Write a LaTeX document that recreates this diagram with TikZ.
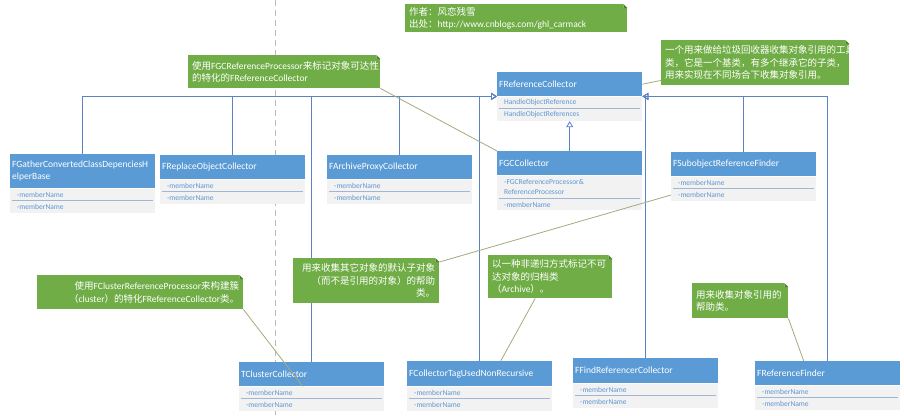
\documentclass[tikz,border=0pt]{standalone}
\usepackage{fontspec}
\setmainfont{Carlito}
\newfontfamily\cjk{Noto Sans CJK SC}
\usetikzlibrary{arrows.meta, positioning, backgrounds}
\definecolor{hdrblue}{RGB}{91,155,213}
\definecolor{rowgray}{RGB}{242,242,242}
\definecolor{rowtext}{RGB}{95,150,210}
\definecolor{sepblue}{RGB}{160,182,212}
\definecolor{linkblue}{RGB}{91,131,196}
\definecolor{notegreen}{RGB}{112,173,71}
\definecolor{notedark}{RGB}{78,130,45}
\definecolor{annoline}{RGB}{165,170,125}
\definecolor{guidegray}{RGB}{185,185,185}
\newcommand{\ltn}[1]{{\rmfamily #1}}

\begin{document}
\begin{tikzpicture}[x=1pt, y=-1pt,
  hdr/.style={fill=hdrblue, text=white, font=\fontsize{9.5}{12}\selectfont,
              anchor=north west, inner sep=2pt, text width=141pt, align=left},
  mrow/.style={fill=rowgray, text=rowtext, font=\fontsize{7.5}{10}\selectfont,
               anchor=north west, inner xsep=7pt, inner ysep=0pt,
               minimum height=12pt, text width=131pt, align=left},
  note/.style={fill=notegreen, text=white, font=\cjk\fontsize{9.5}{12.5}\selectfont,
               anchor=north west, inner xsep=4pt, inner ysep=2pt},
  inherit/.style={draw=linkblue, line width=0.8pt, -{Triangle[open, length=6pt, width=7pt]}},
  anno/.style={draw=annoline, line width=0.8pt},
  guide/.style={draw=guidegray, line width=0.8pt, dash pattern=on 6pt off 4pt},
  sepline/.style={draw=sepblue, line width=0.7pt}]

  \useasboundingbox (0,0) rectangle (904,415);
  \begin{pgfonlayer}{background}
    \fill[white] (0,0) rectangle (904,415);
  \end{pgfonlayer}

  % Base class
  \node[hdr, minimum height=24pt] (frc) at (497,72) {FReferenceCollector};
  \node[mrow] (frc-a) at (frc.south west) {HandleObjectReference};
  \node[mrow] (frc-b) at (frc-a.south west) {HandleObjectReferences};
  \draw[sepline] ([xshift=2pt]frc-a.south west) -- ([xshift=-2pt]frc-a.south east);

  % GC collector
  \node[hdr, minimum height=24pt] (fgc) at (497,151) {FGCCollector};
  \node[mrow, minimum height=23pt] (fgc-a) at (fgc.south west) {-FGCReferenceProcessor\&\\ReferenceProcessor};
  \node[mrow, minimum height=11pt] (fgc-b) at (fgc-a.south west) {-memberName};
  \draw[sepline] ([xshift=2pt]fgc-a.south west) -- ([xshift=-2pt]fgc-a.south east);

  % Other derived classes
  \foreach \n/\x/\y/\h/\t in {
      fgt/10/154/34/{FGatherConvertedClassDepenciesH\\elperBase},
      frp/160/155/24/FReplaceObjectCollector,
      fap/327/155/24/FArchiveProxyCollector,
      fsr/671/152/24/FSubobjectReferenceFinder,
      tcc/239/362/24/TClusterCollector,
      ftg/407/361/25/FCollectorTagUsedNonRecursive,
      ffr/573/358/25/FFindReferencerCollector,
      frf/755/361/24/FReferenceFinder} {
    \node[hdr, minimum height=\h pt] (\n) at (\x,\y) {\t};
    \node[mrow] (\n-a) at (\n.south west) {-memberName};
    \node[mrow] (\n-b) at (\n-a.south west) {-memberName};
    \draw[sepline] ([xshift=2pt]\n-a.south west) -- ([xshift=-2pt]\n-a.south east);
  }

  % Inheritance
  \begin{pgfonlayer}{background}
    \draw[guide] (275,0) -- (275,415);
    \foreach \c in {fgt,frp,tcc,fap,ftg}
      \draw[inherit] (\c.north) |- (frc.south west);
    \foreach \c in {ffr,fsr,frf}
      \draw[inherit] (\c.north) |- (frc.south east);
    \draw[inherit] (fgc.north) -- (frc-b.south);
  \end{pgfonlayer}

  % Notes
  \node[note, text width=184pt, minimum height=33pt, align=left] (na) at (188,55)
    {使用\ltn{FGCReferenceProcessor}来标记对象可达性\\的特化的\ltn{FReferenceCollector}};
  \node[note, text width=214pt, minimum height=28pt, align=left] (nb) at (405,4)
    {作者：风恋残雪\\出处：\ltn{http://www.cnblogs.com/ghl\_carmack}};
  \node[note, text width=180pt, minimum height=45pt, align=left] (nc) at (661,40)
    {一个用来做给垃圾回收器收集对象引用的工具\\类，它是一个基类，有多个继承它的子类，\\用来实现在不同场合下收集对象引用。};
  \node[note, text width=138pt, minimum height=45pt, align=right] (nd) at (293,258)
    {用来收集其它对象的默认子对象\\（而不是引用的对象）的帮助\\类。};
  \node[note, text width=116pt, minimum height=43pt, align=left] (ne) at (488,255)
    {以一种非递归方式标记不可\\达对象的归档类\\（\ltn{Archive}）。};
  \node[note, text width=198pt, minimum height=34pt, align=right] (nf) at (37,275)
    {使用\ltn{FClusterReferenceProcessor}来构建簇\\（\ltn{cluster}）的特化\ltn{FReferenceCollector}类。};
  \node[note, text width=88pt, minimum height=35pt, align=left] (ng) at (692,283)
    {用来收集对象引用的\\帮助类。};
  \foreach \n in {na,nb,nc,nd,ne,nf,ng} {
    \fill[white] (\n.north east) rectangle ++(-4pt,-4pt);
    \fill[notedark] ([xshift=-4pt]\n.north east) -- ++(0pt,-4pt) -- ++(4pt,0pt) -- cycle;
  }

  % Note links
  \draw[anno] (na.south east) -- (fgc.north west);
  \draw[anno] (frc.east) -- ([yshift=5pt]nc.south west);
  \draw[anno] ([yshift=-4pt]nd.north east) -- (fsr-b.west);
  \draw[anno] ([xshift=-15pt]ne.south) -- ([xshift=21pt]ftg.north);
  \draw[anno] (nf.south east) -- ([xshift=-9pt]tcc.south);
  \draw[anno] (ng.south east) -- ([xshift=-24pt]frf.north);
\end{tikzpicture}
\end{document}
